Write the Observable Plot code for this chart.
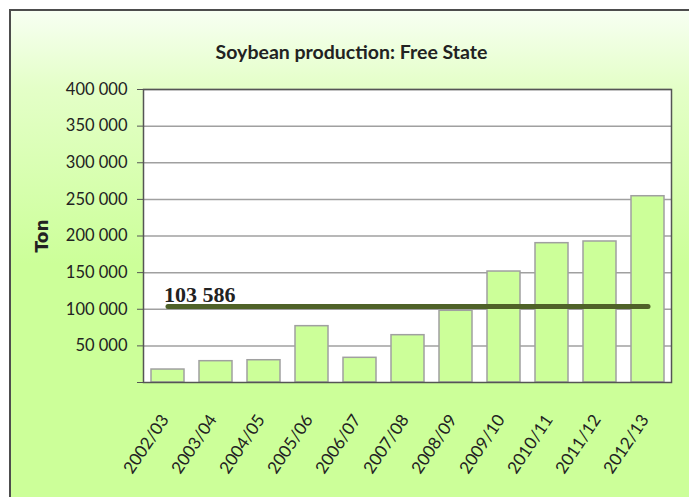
<!DOCTYPE html>
<html>
<head>
<meta charset="utf-8">
<script src="https://cdn.jsdelivr.net/npm/d3@7"></script>
<script src="https://cdn.jsdelivr.net/npm/@observablehq/plot@0.6"></script>
<style>
  html, body { margin: 0; padding: 0; background: #ffffff; }
  body { width: 689px; height: 497px; overflow: hidden; position: relative; }
  #panel {
    position: absolute; left: 9px; top: 9px; width: 700px; height: 510px;
    border: 2px solid #4d4d4d; box-sizing: border-box;
    background: linear-gradient(to bottom, #f7fff2 0%, #e4ffc8 15%, #ccff99 50%, #ccff99 100%);
  }
  #chart { position: absolute; left: 0; top: 0; }
  svg { background: transparent !important; }
</style>
</head>
<body>
<div id="panel"></div>
<div id="chart"></div>
<script>
const seasons = ["2002/03","2003/04","2004/05","2005/06","2006/07","2007/08","2008/09","2009/10","2010/11","2011/12","2012/13"];
const production = [17700, 29100, 30400, 76900, 33700, 64600, 97900, 151500, 190200, 192500, 254300];
const averageValue = 103586;
const averageLabel = "103 586";
const yTicks = [0, 50000, 100000, 150000, 200000, 250000, 300000, 350000, 400000];
const titleText = "Soybean production: Free State";
const yLabel = "Ton";

const bars = seasons.map((s, i) => ({season: s, value: production[i]}));
const avgLine = [
  {season: seasons[0], value: averageValue},
  {season: seasons[seasons.length - 1], value: averageValue}
];
const fmt = d => d === 0 ? "" : d3.format(",")(d).replace(/,/g, " ");
const sans = "Lato, 'Open Sans', sans-serif";

const chart = Plot.plot({
  width: 689,
  height: 497,
  marginLeft: 143,
  marginRight: 18,
  marginTop: 89,
  marginBottom: 115,
  style: {fontFamily: sans, background: "transparent", color: "#222"},
  x: {domain: seasons, paddingInner: 0.32, paddingOuter: 0.1, label: null},
  y: {domain: [0, 400000], label: null},
  marks: [
    Plot.frame({fill: "white", stroke: null}),
    Plot.ruleY(yTicks.slice(1), {stroke: "#a0a0a0", strokeWidth: 1.5}),
    Plot.barY(bars, {x: "season", y: "value", fill: "#ccff99", stroke: "#a0a0a0", strokeWidth: 1.5}),
    Plot.frame({stroke: "#555", strokeWidth: 1.5}),
    Plot.axisY({ticks: yTicks, tickFormat: fmt, tickSize: 6, tickPadding: 10, fontSize: 16.5, stroke: "#555", label: null, fill: "#222"}),
    Plot.axisX({tickSize: 0, tickRotate: -56, tickPadding: 34, dx: -3, fontSize: 17, label: null, fill: "#222"}),
    Plot.line(avgLine, {x: "season", y: "value", stroke: "#4f6228", strokeWidth: 5, strokeLinecap: "round"}),
    Plot.text([averageLabel], {x: () => seasons[0], y: () => averageValue, text: d => d, textAnchor: "start", lineAnchor: "bottom", dy: -5, dx: -4, fontSize: 22, fontWeight: "bold", fontFamily: "'Liberation Serif', 'Times New Roman', serif", fill: "#222"}),
    Plot.text([titleText], {frameAnchor: "top", text: d => d, dy: -44, dx: -56, fontSize: 19.5, fontWeight: "bold", fill: "#222"}),
    Plot.text([yLabel], {frameAnchor: "left", text: d => d, rotate: -90, dx: -101, textAnchor: "middle", fontSize: 17, fontWeight: "bold", fontFamily: "'DejaVu Sans', sans-serif", fill: "#222"})
  ]
});
document.getElementById("chart").appendChild(chart);
</script>
</body>
</html>
